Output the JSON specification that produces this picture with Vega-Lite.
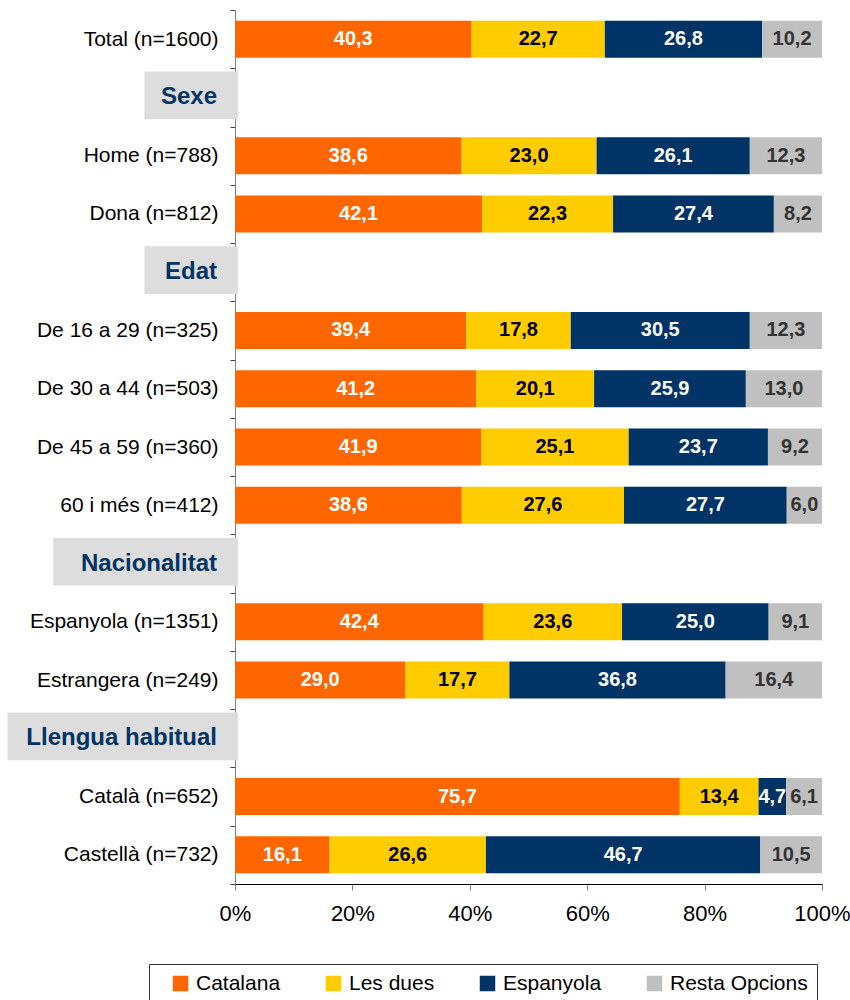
{
  "$schema": "https://vega.github.io/schema/vega-lite/v6.json",
  "width": 587,
  "height": 874,
  "autosize": {"type": "none"},
  "padding": {"left": 235, "top": 10, "right": 28, "bottom": 116},
  "config": {
    "locale": {"number": {"decimal": ",", "thousands": ".", "grouping": [3], "currency": ["", " €"]}},
    "view": {"stroke": null},
    "font": "Liberation Sans",
    "axis": {"grid": false},
    "axisY": {"domainColor": "#808080", "tickColor": "#404040", "tickSize": 5, "tickBand": "extent", "labelPadding": 12, "labelLimit": 0, "labelFont": "Liberation Sans", "labelFontSize": 21, "labelColor": "#000000"},
    "axisX": {"domainColor": "#000000", "tickColor": "#808080", "tickSize": 6, "labelFontSize": 22, "labelPadding": 13, "labelColor": "#000000", "labelFlush": false, "labelFont": "Liberation Sans"},
    "legend": {"labelFontSize": 21, "labelColor": "#000000", "labelFont": "Liberation Sans", "symbolType": "square", "symbolSize": 240, "symbolStrokeWidth": 0, "strokeColor": "#333333", "padding": 9, "gridAlign": "none", "columnPadding": 42, "labelOffset": 5, "labelLimit": 0, "titleOrient": "left", "titlePadding": 12, "titleFontSize": 11}
  },
  "datasets": {
    "headers": [
      {"group": "Sexe"},
      {"group": "Edat"},
      {"group": "Nacionalitat"},
      {"group": "Llengua habitual"}
    ],
    "bars": [
      {"group": "Total (n=1600)", "option": "Catalana", "value": 40.3},
      {"group": "Total (n=1600)", "option": "Les dues", "value": 22.7},
      {"group": "Total (n=1600)", "option": "Espanyola", "value": 26.8},
      {"group": "Total (n=1600)", "option": "Resta Opcions", "value": 10.2},
      {"group": "Home (n=788)", "option": "Catalana", "value": 38.6},
      {"group": "Home (n=788)", "option": "Les dues", "value": 23.0},
      {"group": "Home (n=788)", "option": "Espanyola", "value": 26.1},
      {"group": "Home (n=788)", "option": "Resta Opcions", "value": 12.3},
      {"group": "Dona (n=812)", "option": "Catalana", "value": 42.1},
      {"group": "Dona (n=812)", "option": "Les dues", "value": 22.3},
      {"group": "Dona (n=812)", "option": "Espanyola", "value": 27.4},
      {"group": "Dona (n=812)", "option": "Resta Opcions", "value": 8.2},
      {"group": "De 16 a 29 (n=325)", "option": "Catalana", "value": 39.4},
      {"group": "De 16 a 29 (n=325)", "option": "Les dues", "value": 17.8},
      {"group": "De 16 a 29 (n=325)", "option": "Espanyola", "value": 30.5},
      {"group": "De 16 a 29 (n=325)", "option": "Resta Opcions", "value": 12.3},
      {"group": "De 30 a 44 (n=503)", "option": "Catalana", "value": 41.2},
      {"group": "De 30 a 44 (n=503)", "option": "Les dues", "value": 20.1},
      {"group": "De 30 a 44 (n=503)", "option": "Espanyola", "value": 25.9},
      {"group": "De 30 a 44 (n=503)", "option": "Resta Opcions", "value": 13.0},
      {"group": "De 45 a 59 (n=360)", "option": "Catalana", "value": 41.9},
      {"group": "De 45 a 59 (n=360)", "option": "Les dues", "value": 25.1},
      {"group": "De 45 a 59 (n=360)", "option": "Espanyola", "value": 23.7},
      {"group": "De 45 a 59 (n=360)", "option": "Resta Opcions", "value": 9.2},
      {"group": "60 i més (n=412)", "option": "Catalana", "value": 38.6},
      {"group": "60 i més (n=412)", "option": "Les dues", "value": 27.6},
      {"group": "60 i més (n=412)", "option": "Espanyola", "value": 27.7},
      {"group": "60 i més (n=412)", "option": "Resta Opcions", "value": 6.0},
      {"group": "Espanyola (n=1351)", "option": "Catalana", "value": 42.4},
      {"group": "Espanyola (n=1351)", "option": "Les dues", "value": 23.6},
      {"group": "Espanyola (n=1351)", "option": "Espanyola", "value": 25.0},
      {"group": "Espanyola (n=1351)", "option": "Resta Opcions", "value": 9.1},
      {"group": "Estrangera (n=249)", "option": "Catalana", "value": 29.0},
      {"group": "Estrangera (n=249)", "option": "Les dues", "value": 17.7},
      {"group": "Estrangera (n=249)", "option": "Espanyola", "value": 36.8},
      {"group": "Estrangera (n=249)", "option": "Resta Opcions", "value": 16.4},
      {"group": "Català (n=652)", "option": "Catalana", "value": 75.7},
      {"group": "Català (n=652)", "option": "Les dues", "value": 13.4},
      {"group": "Català (n=652)", "option": "Espanyola", "value": 4.7},
      {"group": "Català (n=652)", "option": "Resta Opcions", "value": 6.1},
      {"group": "Castellà (n=732)", "option": "Catalana", "value": 16.1},
      {"group": "Castellà (n=732)", "option": "Les dues", "value": 26.6},
      {"group": "Castellà (n=732)", "option": "Espanyola", "value": 46.7},
      {"group": "Castellà (n=732)", "option": "Resta Opcions", "value": 10.5}
    ]
  },
  "encoding": {
    "y": {
      "field": "group",
      "type": "nominal",
      "scale": {
        "domain": ["Total (n=1600)", "Sexe", "Home (n=788)", "Dona (n=812)", "Edat", "De 16 a 29 (n=325)", "De 30 a 44 (n=503)", "De 45 a 59 (n=360)", "60 i més (n=412)", "Nacionalitat", "Espanyola (n=1351)", "Estrangera (n=249)", "Llengua habitual", "Català (n=652)", "Castellà (n=732)"],
        "paddingInner": 0,
        "paddingOuter": 0
      },
      "axis": {
        "title": null,
        "labelExpr": "indexof(['Sexe','Edat','Nacionalitat','Llengua habitual'], datum.value) >= 0 ? '' : datum.label"
      }
    }
  },
  "layer": [
    {
      "data": {"name": "headers"},
      "transform": [{"calculate": "-(11.4*length(datum.group)+45)/587", "as": "boxStart"}],
      "layer": [
        {
          "mark": {"type": "bar", "color": "#DDDDDD", "height": {"band": 0.82}, "yOffset": -2},
          "encoding": {
            "x": {"field": "boxStart", "type": "quantitative", "scale": {"domain": [0, 1]}, "axis": {"title": null, "format": "%", "values": [0, 0.2, 0.4, 0.6, 0.8, 1]}},
            "x2": {"datum": 0.005}
          }
        },
        {
          "mark": {"type": "text", "align": "right", "dx": -18, "fontWeight": "bold", "fontSize": 24, "font": "Liberation Sans", "color": "#003366"},
          "encoding": {
            "x": {"datum": 0},
            "text": {"field": "group"}
          }
        }
      ]
    },
    {
      "data": {"name": "bars"},
      "transform": [
        {"calculate": "indexof(['Catalana','Les dues','Espanyola','Resta Opcions'], datum.option)", "as": "ord"},
        {"stack": "value", "groupby": ["group"], "sort": [{"field": "ord", "order": "ascending"}], "offset": "normalize", "as": ["x0", "x1"]},
        {"calculate": "(datum.x0 + datum.x1) / 2", "as": "xmid"}
      ],
      "layer": [
        {
          "mark": {"type": "bar", "height": {"band": 0.635}},
          "encoding": {
            "x": {"field": "x0", "type": "quantitative", "axis": {"title": null, "format": "%", "values": [0, 0.2, 0.4, 0.6, 0.8, 1]}},
            "x2": {"field": "x1"},
            "color": {
              "field": "option",
              "type": "nominal",
              "scale": {"domain": ["Catalana", "Les dues", "Espanyola", "Resta Opcions"], "range": ["#FF6600", "#FFCC00", "#003366", "#C0C0C0"]},
              "legend": {"title": " ", "orient": "none", "legendX": -86, "legendY": 954, "direction": "horizontal", "columns": 4}
            }
          }
        },
        {
          "mark": {"type": "text", "fontWeight": "bold", "fontSize": 20, "font": "Liberation Sans"},
          "encoding": {
            "x": {"field": "xmid", "type": "quantitative", "axis": {"title": null, "format": "%", "values": [0, 0.2, 0.4, 0.6, 0.8, 1]}},
            "text": {"field": "value", "type": "quantitative", "format": ".1f"},
            "color": {
              "condition": [
                {"test": "datum.option === 'Les dues'", "value": "#000000"},
                {"test": "datum.option === 'Resta Opcions'", "value": "#333333"}
              ],
              "value": "#FFFFFF"
            }
          }
        }
      ]
    }
  ]
}
